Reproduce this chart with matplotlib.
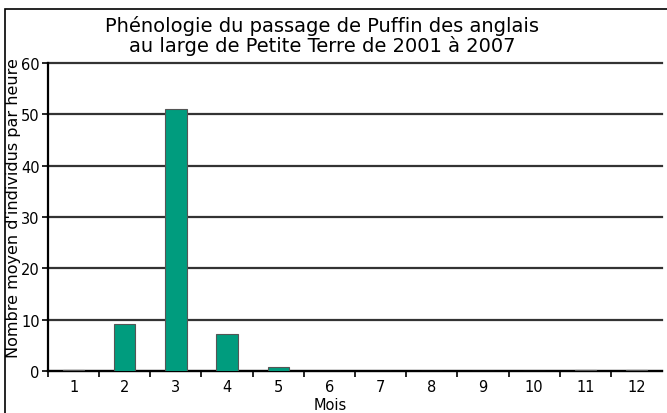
import matplotlib
matplotlib.use('Agg')
import matplotlib.pyplot as plt
from matplotlib.patches import Rectangle

# data
months = ['1', '2', '3', '4', '5', '6', '7', '8', '9', '10', '11', '12']
birds_per_hour = [0.1, 9.1, 51.1, 7.2, 0.7, 0.05, 0, 0, 0, 0, 0.1, 0.1]
y_ticks = [0, 10, 20, 30, 40, 50, 60]

bar_color = '#009c7e'

fig = plt.figure(figsize=(6.67, 4.14), dpi=100)
ax = fig.add_axes([48 / 667, 1 - 372 / 414, 614 / 667, 308 / 414])

x = list(range(1, len(months) + 1))
ax.bar(x, birds_per_hour, width=0.42, color=bar_color,
       edgecolor='#555555', linewidth=0.8, zorder=3)

ax.set_xlim(0.5, 12.5)
ax.set_ylim(0, 60)
ax.set_yticks(y_ticks)
ax.set_xticks(x)
ax.set_xticklabels(months)
ax.set_xticks([i + 0.5 for i in range(12)], minor=True)
ax.tick_params(axis='x', which='major', length=0, labelsize=10.5, pad=6)
ax.tick_params(axis='x', which='minor', length=4, width=1.2, direction='out')
ax.tick_params(axis='y', length=4, width=1.2, labelsize=10.5, pad=2)

ax.grid(axis='y', color='#333333', linewidth=1.6, zorder=1)
for line in ax.get_ygridlines():
    line.set_clip_on(False)
for side in ['top', 'right']:
    ax.spines[side].set_visible(False)
ax.spines['left'].set_linewidth(1.6)
ax.spines['bottom'].set_linewidth(1.6)

fig.text(14 / 667, 1 - 208 / 414, "Nombre moyen d'individus par heure",
         rotation=90, ha='center', va='center', fontsize=11.5)
fig.text(330 / 667, 1 - 406 / 414, 'Mois', ha='center', va='center',
         fontsize=10.5)

fig.text(0.483, 1 - 36 / 414,
         'Phénologie du passage de Puffin des anglais\n'
         'au large de Petite Terre de 2001 à 2007',
         ha='center', va='center', fontsize=14, linespacing=1.05)

# frame around the figure
fig.patches.append(Rectangle((5 / 667, -0.1), 1.2, 1 - 10 / 414 + 0.1,
                             transform=fig.transFigure, fill=False,
                             edgecolor='black', linewidth=1.2))

fig.savefig('out.png', dpi=100)
